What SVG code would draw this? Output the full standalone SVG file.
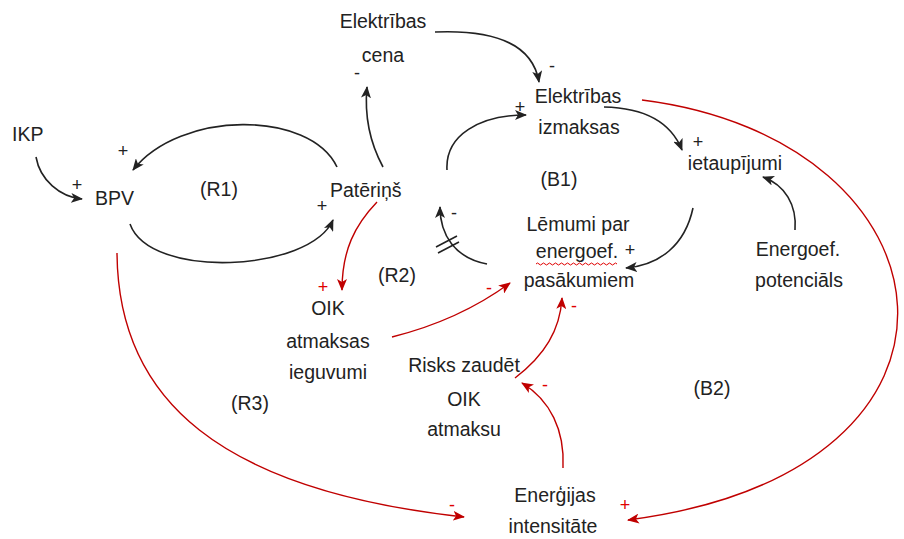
<svg xmlns="http://www.w3.org/2000/svg" width="904" height="539" viewBox="0 0 904 539">
<style>
text{font-family:"Liberation Sans",Arial,sans-serif;font-size:19.5px;fill:#222}
.c{text-anchor:middle}
.s{font-size:18px}
.r{fill:#e00000}
.k{fill:none;stroke:#222;stroke-width:1.6}
.rd{fill:none;stroke:#c00000;stroke-width:1.4}
</style>
<defs>
<marker id="ak" viewBox="0 0 12 10" refX="11" refY="5" markerWidth="12" markerHeight="10" markerUnits="userSpaceOnUse" orient="auto">
<path d="M0,0 L12,5 L0,10 L3,5 Z" fill="#222"/>
</marker>
<marker id="ar" viewBox="0 0 12 10" refX="11" refY="5" markerWidth="12" markerHeight="10" markerUnits="userSpaceOnUse" orient="auto">
<path d="M0,0 L12,5 L0,10 L3,5 Z" fill="#c00000"/>
</marker>
</defs>
<rect width="904" height="539" fill="#fff"/>
<g id="connectors">
<path class="k" d="M36,157 C40,180 60,197 82,199" marker-end="url(#ak)"/>
<path class="k" d="M337,167 C310,110 180,110 133,170" marker-end="url(#ak)"/>
<path class="k" d="M130,224 C150,280 310,272 333,220" marker-end="url(#ak)"/>
<path class="k" d="M383,167 Q363,130 367,87" marker-end="url(#ak)"/>
<path class="k" d="M435,32 Q530,28 539,82" marker-end="url(#ak)"/>
<path class="k" d="M447,170 C445,135 480,115 526,115" marker-end="url(#ak)"/>
<path class="k" d="M604,107 C650,108 672,125 682,150" marker-end="url(#ak)"/>
<path class="k" d="M795,230 C797,205 785,185 763,177" marker-end="url(#ak)"/>
<path class="k" d="M693,208 C685,245 660,265 626,268" marker-end="url(#ak)"/>
<path class="k" d="M487,264 C455,258 440,235 440,207" marker-end="url(#ak)"/>
<path class="k" d="M436,247 L457,236 M438,253 L459,242"/>
<path class="rd" d="M377,202 C355,225 342,250 342,290" marker-end="url(#ar)"/>
<path class="rd" d="M392,337 C440,325 480,305 510,283" marker-end="url(#ar)"/>
<path class="rd" d="M515,378 C545,355 560,330 562,298" marker-end="url(#ar)"/>
<path class="rd" d="M563,468 C565,430 550,400 522,383" marker-end="url(#ar)"/>
<path class="rd" d="M117,253 C118,400 220,490 464,517" marker-end="url(#ar)"/>
<path class="rd" d="M642,100 C960,140 1010,470 628,520" marker-end="url(#ar)"/>
</g>
<g id="IKP"><text x="12" y="141">IKP</text></g>
<g id="BPV"><text x="95" y="205">BPV</text></g>
<g id="Pateris"><text x="330" y="197">Patēriņš</text></g>
<g id="ElCena"><text class="c" x="383" y="28">Elektrības</text><text class="c" x="383" y="62">cena</text></g>
<g id="ElIzm"><text class="c" x="578" y="103">Elektrības</text><text class="c" x="579" y="134">izmaksas</text></g>
<g id="Ietaup"><text class="c" x="735" y="170">ietaupījumi</text></g>
<g id="Potenc"><text class="c" x="798" y="256">Energoef.</text><text class="c" x="799" y="287">potenciāls</text></g>
<g id="Lemumi"><text class="c" x="578" y="231">Lēmumi par</text><text class="c" x="577" y="258">energoef.</text><path d="M536,264 q1.5,-2 3,0 t3,0 t3,0 t3,0 t3,0 t3,0 t3,0 t3,0 t3,0 t3,0 t3,0 t3,0 t3,0 t3,0 t3,0 t3,0 t3,0 t3,0 t3,0 t3,0 t3,0 t3,0 t3,0 t3,0 t3,0 t3,0 t3,0" fill="none" stroke="#e00000" stroke-width="1"/><text class="c" x="579" y="287">pasākumiem</text></g>
<g id="OIKatm"><text class="c" x="328" y="315">OIK</text><text class="c" x="328" y="348">atmaksas</text><text class="c" x="328" y="379">ieguvumi</text></g>
<g id="Risks"><text class="c" x="464" y="372">Risks zaudēt</text><text class="c" x="464" y="406">OIK</text><text class="c" x="464" y="436">atmaksu</text></g>
<g id="Energ"><text class="c" x="555" y="502">Enerģijas</text><text class="c" x="553" y="533">intensitāte</text></g>
<g id="loops">
<text class="c" x="219" y="196">(R1)</text>
<text class="c" x="397" y="282">(R2)</text>
<text class="c" x="250" y="410">(R3)</text>
<text class="c" x="559" y="186">(B1)</text>
<text class="c" x="712" y="395">(B2)</text>
</g>
<g id="signs">
<text class="s c" x="77" y="191">+</text>
<text class="s c" x="123" y="157">+</text>
<text class="s c" x="322" y="212">+</text>
<text class="s c" x="357" y="79">-</text>
<text class="s c" x="552" y="72">-</text>
<text class="s c" x="520" y="113">+</text>
<text class="s c" x="698" y="148">+</text>
<text class="s c" x="630" y="256">+</text>
<text class="s c" x="454" y="219">-</text>
<text class="s c r" x="323" y="293">+</text>
<text class="s c r" x="489" y="294">-</text>
<text class="s c r" x="574" y="312">-</text>
<text class="s c r" x="545" y="391">-</text>
<text class="s c r" x="452" y="511">-</text>
<text class="s c r" x="625" y="511">+</text>
</g>
</svg>
